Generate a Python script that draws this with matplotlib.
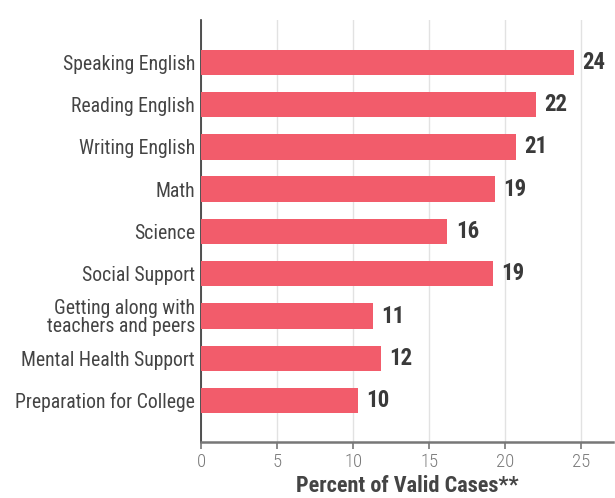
import matplotlib.pyplot as plt
import numpy as np

# ---------------------- Data ---------------------- #
categories = [
    'Speaking English',
    'Reading English',
    'Writing English',
    'Math',
    'Science',
    'Social Support',
    'Getting along with\nteachers and peers',
    'Mental Health Support',
    'Preparation for College',
]
percent_valid = [24.5, 22.0, 20.7, 19.3, 16.2, 19.2, 11.3, 11.8, 10.3]
x_ticks = [0, 5, 10, 15, 20, 25]
# -------------------------------------------------- #

BAR_COLOR = '#F25C6B'
TEXT_DARK = '#444444'
TEXT_GRAY = '#7a7a7a'

plt.rcParams['font.family'] = ['Roboto Condensed', 'Roboto', 'DejaVu Sans']

fig = plt.figure(figsize=(6.15, 4.98), dpi=100)
ax = fig.add_axes([0.3273, 0.113, 0.6695, 0.847])

y = np.arange(len(categories))
bars = ax.barh(y, percent_valid, height=0.6, color=BAR_COLOR, zorder=3)

# value labels at the end of each bar
for yi, v in zip(y, percent_valid):
    ax.text(v + 0.55, yi, f'{v:.0f}', va='center', ha='left',
            fontsize=16.5, fontweight='bold', color='#3a3a3a')

ax.set_yticks(y)
ax.set_yticklabels(categories, fontsize=14.2, color=TEXT_DARK, linespacing=0.95)
ax.set_ylim(8.97, -1.0)
ax.set_xlim(0, 27.1)
ax.set_xticks(x_ticks)
ax.set_xticklabels([str(t) for t in x_ticks], fontsize=13.5, color=TEXT_GRAY,
                   fontweight='light')

ax.xaxis.grid(True, color='#e2e2e2', linewidth=1, zorder=0)
ax.tick_params(axis='y', length=0, pad=4.5)
ax.tick_params(axis='x', length=5, width=1.2, color='#777777', pad=3)

for side in ['top', 'right']:
    ax.spines[side].set_visible(False)
ax.spines['left'].set_color('#333333')
ax.spines['left'].set_linewidth(1.2)
ax.spines['bottom'].set_color('#777777')
ax.spines['bottom'].set_linewidth(1.8)

ax.set_xlabel('Percent of Valid Cases**', fontsize=16, fontweight='bold',
              color=TEXT_DARK, labelpad=3)

fig.savefig('out.png', dpi=100)
